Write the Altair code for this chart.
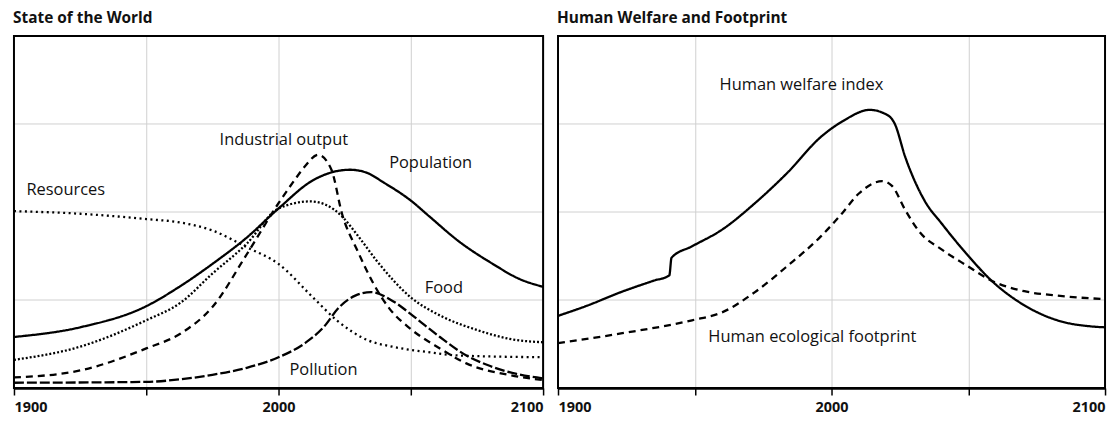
import altair as alt
import pandas as pd

# ---- State of the World ----
pop_years = [1900, 1925, 1950, 1963, 1975, 1988, 2000, 2013, 2027, 2033, 2040, 2050, 2057, 2068, 2081, 2091, 2100]
pop_vals  = [0.58, 0.69, 0.93, 1.16, 1.41, 1.71, 2.04, 2.36, 2.48, 2.45, 2.33, 2.13, 1.95, 1.67, 1.41, 1.24, 1.15]

ind_years = [1900, 1925, 1950, 1963, 1975, 1988, 2000, 2006, 2010, 2015, 2020, 2024, 2030, 2036, 2042, 2050, 2061, 2071, 2087, 2100]
ind_vals  = [0.12, 0.20, 0.45, 0.62, 0.92, 1.52, 2.10, 2.36, 2.52, 2.65, 2.48, 1.98, 1.55, 1.18, 0.90, 0.67, 0.45, 0.28, 0.15, 0.09]

food_years = [1900, 1925, 1950, 1963, 1975, 1988, 2000, 2012, 2018, 2024, 2030, 2037, 2050, 2062, 2075, 2087, 2100]
food_vals  = [0.32, 0.47, 0.77, 0.97, 1.30, 1.64, 2.04, 2.12, 2.08, 1.95, 1.73, 1.45, 1.03, 0.81, 0.66, 0.56, 0.52]

res_years = [1900, 1925, 1950, 1963, 1975, 1988, 2000, 2013, 2022, 2034, 2043, 2056, 2068, 2100]
res_vals  = [2.01, 1.98, 1.92, 1.88, 1.79, 1.60, 1.41, 1.03, 0.77, 0.54, 0.47, 0.41, 0.37, 0.35]

pol_years = [1900, 1950, 1963, 1975, 1988, 2000, 2010, 2017, 2023, 2029, 2035, 2042, 2050, 2055, 2061, 2071, 2080, 2090, 2100]
pol_vals  = [0.06, 0.07, 0.10, 0.15, 0.23, 0.35, 0.51, 0.69, 0.92, 1.05, 1.09, 1.01, 0.84, 0.72, 0.58, 0.37, 0.25, 0.16, 0.11]

# ---- Human Welfare and Footprint ----
hwi_years = [1900, 1911, 1923, 1935, 1940.7, 1941.5, 1949, 1960, 1972, 1984, 1996, 2004, 2014, 2021, 2023, 2027, 2034, 2040.5, 2049.5, 2058.5, 2070.5, 2082.5, 2095, 2100]
hwi_vals  = [0.82, 0.94, 1.09, 1.22, 1.28, 1.48, 1.61, 1.80, 2.10, 2.45, 2.85, 3.03, 3.16, 3.09, 3.01, 2.62, 2.13, 1.86, 1.52, 1.22, 0.94, 0.77, 0.70, 0.69]

hef_years = [1900, 1923, 1949, 1960, 1972, 1984, 1996, 2004, 2010, 2018.5, 2022, 2027, 2032, 2040.5, 2049.5, 2058.5, 2070.5, 2082.5, 2100]
hef_vals  = [0.51, 0.62, 0.77, 0.86, 1.09, 1.39, 1.72, 1.99, 2.21, 2.35, 2.30, 2.02, 1.78, 1.57, 1.39, 1.22, 1.10, 1.05, 1.01]

left_names = ["Population", "Industrial output", "Food", "Resources", "Pollution"]
left_dash = [[1, 0], [7, 5], [2, 2], [2, 3.5], [10, 3]]
right_names = ["Human welfare index", "Human ecological footprint"]
right_dash = [[1, 0], [10, 6]]

left_labels = ["Industrial output", "Population", "Resources", "Food", "Pollution"]
left_lab_x = [2002, 2057.5, 1904.7, 2062.5, 2017]
left_lab_y = [2.82, 2.56, 2.25, 1.14, 0.20]
left_lab_align = ["center", "center", "left", "center", "center"]
right_labels = ["Human welfare index", "Human ecological footprint"]
right_lab_x = [1989, 1993]
right_lab_y = [3.44, 0.58]

grid_y = [1, 2, 3]
tick_years = [1900, 1950, 2000, 2050, 2100]

FONT = "Open Sans"


def long_df(pairs):
    rows = []
    for name, ys, vs in pairs:
        for y, v in zip(ys, vs):
            rows.append({"series": name, "year": y, "value": v})
    return pd.DataFrame(rows)


left_df = long_df([
    ("Population", pop_years, pop_vals),
    ("Industrial output", ind_years, ind_vals),
    ("Food", food_years, food_vals),
    ("Resources", res_years, res_vals),
    ("Pollution", pol_years, pol_vals),
])
right_df = long_df([
    ("Human welfare index", hwi_years, hwi_vals),
    ("Human ecological footprint", hef_years, hef_vals),
])

x_axis = alt.Axis(values=tick_years, title=None, grid=True,
                  labelExpr="datum.value % 100 == 0 ? datum.value : ''",
                  labelFlush=True, labelFont=FONT, labelFontSize=14.5, labelFontWeight="bold",
                  labelColor="#111", domainColor="#000", domainWidth=2.5,
                  tickColor="#000", tickWidth=1.5, tickSize=7, gridColor="#d0d0d0",
                  labelPadding=6)

H = 354


def panel(df, names, dashes, labs, lx, ly, aligns, title, width):
    xs = alt.Scale(domain=[1900, 2100], nice=False, zero=False)
    ys = alt.Scale(domain=[0, 4], nice=False)
    grid = alt.Chart(pd.DataFrame({"g": grid_y})).mark_rule(color="#d0d0d0", strokeWidth=1).encode(
        y=alt.Y("g:Q", scale=ys, axis=None)
    )
    lines = alt.Chart(df).mark_line(interpolate="monotone", color="black", strokeWidth=2.3).encode(
        x=alt.X("year:Q", scale=xs, axis=x_axis),
        y=alt.Y("value:Q", scale=ys, axis=None),
        strokeDash=alt.StrokeDash("series:N", scale=alt.Scale(domain=names, range=dashes), legend=None),
        detail="series:N",
    )
    layers = [grid, lines]
    lab_df = pd.DataFrame({"label": labs, "year": lx, "value": ly, "align": aligns})
    for al in sorted(set(aligns)):
        sub = lab_df[lab_df["align"] == al]
        layers.append(
            alt.Chart(sub).mark_text(font=FONT, fontSize=16.5, color="#111", align=al, baseline="middle").encode(
                x=alt.X("year:Q", scale=xs, axis=x_axis), y=alt.Y("value:Q", scale=ys, axis=None),
                text="label:N")
        )
    border = alt.Chart(pd.DataFrame({"b": [0]})).mark_rect(filled=False, stroke="#000", strokeWidth=2).encode(
        x=alt.value(0), x2=alt.value(width), y=alt.value(0), y2=alt.value(H)
    )
    layers.append(border)
    return alt.layer(*layers).properties(
        width=width, height=H,
        title=alt.TitleParams(title, anchor="start", frame="group", font=FONT, fontSize=15.5,
                              fontWeight="bold", color="#111", offset=9, dx=-1),
    )


left = panel(left_df, left_names, left_dash, left_labels, left_lab_x, left_lab_y, left_lab_align,
             "State of the World", 532)
right = panel(right_df, right_names, right_dash, right_labels, right_lab_x, right_lab_y,
              ["center", "center"], "Human Welfare and Footprint", 550)

chart = alt.hconcat(left, right, spacing=15, bounds="flush").properties(
    padding={"left": 0, "right": 0, "top": 1, "bottom": 0}
).configure_view(stroke=None).configure(background="white")

chart.save("out.html", embed_options={"renderer": "svg", "actions": False})
